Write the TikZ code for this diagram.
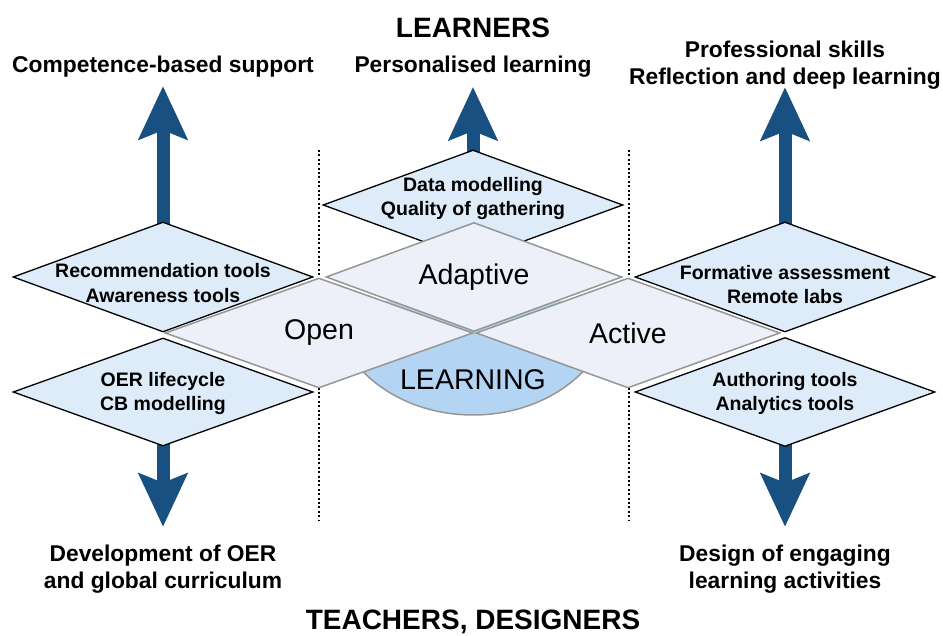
\documentclass[tikz,border=0pt]{standalone}
\usepackage{fontspec}
\setmainfont{Liberation Sans}
\usetikzlibrary{shapes.geometric,arrows.meta,backgrounds}
\definecolor{arrowblue}{RGB}{24,80,130}
\definecolor{toolfill}{RGB}{221,236,248}
\definecolor{modefill}{RGB}{237,240,248}
\definecolor{modeline}{RGB}{150,150,150}
\definecolor{learnfill}{RGB}{180,212,244}
\tikzset{
  tool/.style={diamond, draw=black, line width=1.3pt, fill=toolfill, minimum width=300pt, minimum height=110pt, inner sep=0pt},
  tooltext/.style={align=center, inner sep=0pt, font=\fontsize{19.5}{24.5}\selectfont\bfseries},
  mode/.style={diamond, aspect=2.73, draw=modeline, line width=1.5pt, fill=modefill, minimum width=300pt, minimum height=110pt, inner sep=0pt, font=\fontsize{28.5}{34}\selectfont},
  goal/.style={align=center, inner sep=0pt, font=\fontsize{22.8}{27}\selectfont\bfseries},
  actor/.style={inner sep=0pt, font=\fontsize{28}{34}\selectfont\bfseries},
  sep/.style={line width=2pt, dash pattern=on 2pt off 2.4pt}
}
\begin{document}
\begin{tikzpicture}[x=1pt,y=1pt]
      \useasboundingbox (0,0) rectangle (943,635);

      \begin{scope}[every node/.style={goal}]
        \node (comp)   at (163,568)  {Competence-based support};
        \node (pers)   at (473,568)  {Personalised learning};
        \node (prof)   at (785,569.5) {Professional skills\\Reflection and deep learning};
        \node (dev)    at (163,65.5) {Development of OER\\and global curriculum};
        \node (design) at (785,65.5) {Design of engaging\\learning activities};
      \end{scope}

      \begin{scope}[every node/.style={actor}]
        \node (learners) at (473,607) {LEARNERS};
        \node (teachers) at (473,13)  {TEACHERS, DESIGNERS};
      \end{scope}

      \coordinate (sepLtop) at (319,485);
      \coordinate (sepLbot) at (319,115);
      \coordinate (sepRtop) at (629,485);
      \coordinate (sepRbot) at (629,115);
      \draw[sep] (sepLtop) -- (sepLbot);
      \draw[sep] (sepRtop) -- (sepRbot);

      \fill[learnfill] (333,334) arc[start angle=180, end angle=360, x radius=140pt, y radius=114pt] -- cycle;
      \draw[modeline, line width=1.5pt] (333,334) arc[start angle=180, end angle=360, x radius=140pt, y radius=114pt];

      \begin{scope}[every node/.style={tool}]
        \node[label={[tooltext,yshift=-6pt]center:{Recommendation tools\\Awareness tools}}] (rec) at (163,358) {};
        \node[minimum height=108pt, label={[tooltext,yshift=-1.5pt]center:{OER lifecycle\\CB modelling}}] (oer) at (163,243) {};
        \node[label={[tooltext,yshift=6.5pt]center:{Data modelling\\Quality of gathering}}] (data) at (473,430) {};
        \node[label={[tooltext,yshift=-7.5pt]center:{Formative assessment\\Remote labs}}] (form) at (785,358) {};
        \node[minimum height=109pt, label={[tooltext,yshift=-1.5pt]center:{Authoring tools\\Analytics tools}}] (auth) at (785,243) {};
      \end{scope}

      \begin{scope}[every node/.style={mode}]
        \node[minimum width=296pt, minimum height=109pt] (adapt) at (474,358) {Adaptive};
        \node[minimum width=308pt] (open)   at (319,302) {Open};
        \node[minimum width=304pt] (active) at (628,302) {Active};
      \end{scope}

      \node[font=\fontsize{28.5}{34}\selectfont, inner sep=0pt] (learning) at (473,255) {LEARNING};

      \begin{scope}[on background layer, every edge/.style={draw=arrowblue, line width=13pt, -{Stealth[length=53pt,width=48pt,inset=9pt]}}]
        \path (rec.center)  edge[shorten >=8.3pt]  (comp);
        \path (data.center) edge[shorten >=9pt]    (pers);
        \path (form.center) edge[shorten >=-2.7pt] (prof);
        \path (oer.center)  edge[shorten >=18.3pt] (dev);
        \path (auth.center) edge[shorten >=18.3pt] (design);
      \end{scope}

    \end{tikzpicture}
\end{document}
